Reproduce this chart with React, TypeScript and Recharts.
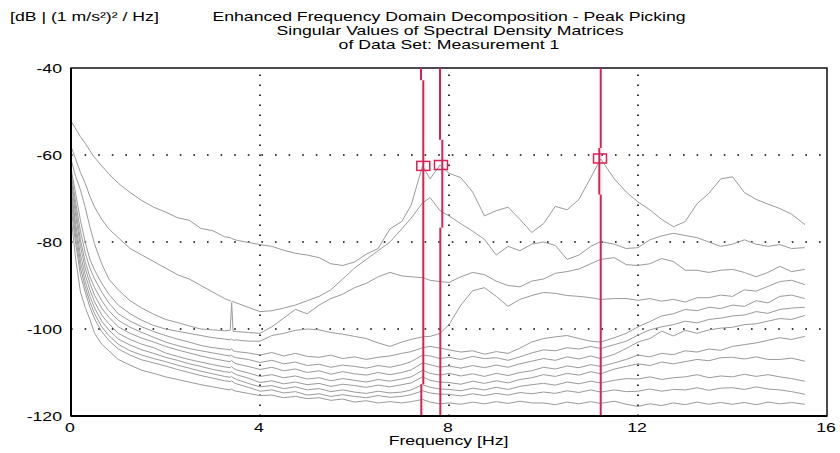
import React from "react";
import { ComposedChart, Line, XAxis, YAxis, ReferenceLine, ReferenceArea, ReferenceDot } from "recharts";

// frequency grid [Hz], shared by all singular value curves
const FREQS = [
  0, 0.1, 0.2, 0.3, 0.4, 0.5, 0.65, 0.8, 1.0, 1.25, 1.5, 1.75, 2.0,
  2.25, 2.5, 2.75, 3.0, 3.25, 3.37, 3.4, 3.43, 3.5, 3.75, 4.0,
  4.25, 4.5, 4.75, 5.0, 5.25, 5.5, 5.75, 6.0, 6.25, 6.5, 6.75, 7.0,
  7.2, 7.44, 7.6, 7.81,
  8.0, 8.25, 8.5, 8.75, 9.0, 9.25, 9.5, 9.75, 10.0, 10.25, 10.5, 10.75, 11.0,
  11.21,
  11.5, 11.75, 12.0, 12.25, 12.5, 12.75, 13.0, 13.25, 13.5, 13.75, 14.0, 14.25, 14.5, 14.75, 15.0, 15.25,
  15.53,
];

// singular values [dB], highest first
const SV1 = [
  -52.2, -54, -55.8, -57.3, -59, -60.6, -62.5, -64.3, -66.5, -68.6, -70.5, -72, -73.1,
  -74.4, -75.0, -76.9, -77.4, -78.8, -79, -79.2, -79.3, -79.6, -80.1, -80.6,
  -81, -81.9, -82.6, -83, -83.6, -85, -85.4, -84.6, -82.8, -81.5, -77, -75.3,
  -71.5, -62.5, -65.5, -62.3,
  -64.2, -65.2, -68.5, -74, -72.8, -72, -74.8, -77.8, -75.8, -71.8, -72.6, -70.2, -65.2,
  -60.9,
  -65.5, -68.5, -70.8, -72.6, -74.8, -76.5, -75.3, -71.2, -68.8, -65.5, -65, -68.6, -70.2, -71.3, -72.3, -73.6,
  -76,
];
const SV2 = [
  -58, -61, -64, -66.5, -69.5, -72, -74.8, -77, -79, -81.5, -83, -84.5, -86,
  -87.5, -88.5, -90, -91.5, -93, -93.5, -93.8, -93.7, -94, -95, -96,
  -95.8, -95.2, -94.5, -93.5, -92.5, -91, -88.5, -86, -84, -82, -80, -77,
  -74.5, -71, -69.8, -72.8,
  -74, -75.8, -77.5, -79.4, -83, -81, -82, -80.5, -80, -80.8, -84, -83, -81,
  -79.9,
  -80.5, -81.5, -81.3, -79.5, -78.6, -78, -78.5, -79, -80, -81, -80.5, -79.5, -80.5, -81, -80.6, -81.5,
  -81.3,
];
const SV3 = [
  -61, -65, -68, -72, -76.5, -80.5, -85, -88.5, -91, -93.5, -95.2, -96.6, -97.8,
  -98.5, -99.3, -100, -100.2, -100.4, -100.3, -94, -100.5, -100.6, -100.8, -101,
  -99.5, -97.5, -95.5, -96.5, -94.5, -93, -92, -90.5, -89.5, -88, -87, -87.8,
  -88, -88.2, -88.8, -89.1,
  -89.3, -88, -87, -87.5, -89, -90, -90.3, -89, -88.5, -87.2, -86.8, -86.2, -85,
  -84,
  -83.6, -85.2, -85.4, -85, -83.8, -84.5, -86.5, -86.5, -87, -86.5, -86.3, -87, -88, -87, -85.6, -86.8,
  -86.3,
];
const SV4 = [
  -63, -69, -75, -80, -84, -86.5, -89.5, -92, -94.5, -96.5, -98, -99.2, -100,
  -100.5, -101, -101.5, -102, -102.3, -102.5, -102.3, -102.6, -102.5, -102.8, -102.8,
  -101.5, -101, -100.3, -100, -100.2, -100.8, -101.2, -101.7, -102.2, -103.2, -104, -103,
  -102.4, -101.8, -101.7, -101,
  -99, -94.5, -91.2, -90.5, -92.5, -94.8, -93.2, -92.3, -91.6, -91.8, -92.3, -92.5, -92.8,
  -93.2,
  -93, -93, -93.4, -93, -93.6, -93.2, -93.8, -92.8, -92.8, -92.2, -92.5, -91, -91.3, -90.2, -89.1, -88.8,
  -89.8,
];
const SV5 = [
  -64, -71, -77.5, -82.5, -86, -88.5, -91.5, -94, -96.5, -98.2, -99.5, -100.6, -101.5,
  -102.3, -103, -103.8, -104.3, -104.6, -104.8, -104.5, -105, -105.2, -105.5, -106,
  -105.4, -106.2, -105.6, -106.3, -106.5, -106, -106.8, -106.4, -107, -106.5, -106.2, -105.6,
  -105.2, -104.3, -104, -104.4,
  -104.8, -105.3, -105, -105.8, -105.2, -105.6, -104.4, -103, -102.2, -101.8, -101.5, -102.2, -102.8,
  -103,
  -102, -101, -99.5, -98.3, -97, -96.5, -95.5, -95.8, -95, -95.3, -94.5, -94.8, -93.5, -94, -92.5, -92.2,
  -93,
];
const SV6 = [
  -65, -72.5, -79.5, -84.5, -88, -90.5, -93.5, -95.8, -98, -99.6, -100.8, -101.9, -103,
  -103.8, -104.5, -105, -105.5, -106, -106.2, -106, -106.4, -106.6, -107, -107.7,
  -107.2, -108, -107.6, -108.4, -108.1, -108.8, -108.3, -108.6, -109, -108.4, -108.8, -108.2,
  -107.5, -106, -106.2, -106.8,
  -106.5, -107, -106.3, -106.8, -106.6, -107.2, -106.4, -105.5, -104.8, -105, -104.3, -104.6, -104,
  -104.5,
  -103.6, -102.8, -101.4, -100.2, -99.5, -99, -98.2, -98.6, -97.8, -97.5, -97, -96.8, -96, -96.4, -95.5, -95.2,
  -95,
];
const SV7 = [
  -66, -74, -81, -86, -89.5, -92.3, -95.2, -97.3, -99.5, -101, -102.1, -103, -104,
  -104.8, -105.5, -106.2, -106.8, -107.3, -107.5, -107.2, -107.6, -108, -108.6, -109.3,
  -108.8, -109.6, -109.2, -110, -109.6, -110.4, -109.8, -110.3, -110.6, -110, -110.5, -110,
  -109.4, -107.8, -108.2, -108.8,
  -108.5, -109, -108.4, -108.9, -108.3, -108.8, -108, -107.4, -106.8, -107.2, -106.4, -106.9, -106.2,
  -106.8,
  -105.8, -104.5, -103, -102.2, -100.5, -101.6, -100.3, -101, -100.2, -99.8, -99.6, -99, -98.8, -98.2, -97.6, -97.8,
  -96.9,
];
const SV8 = [
  -67.5, -76, -83, -87.5, -91, -93.8, -96.8, -98.8, -101, -102.4, -103.5, -104.3, -105.5,
  -106.3, -107, -107.6, -108.2, -108.7, -108.9, -108.6, -109, -109.4, -110.1, -110.9,
  -110.5, -111.2, -110.8, -111.5, -111.2, -111.9, -111.4, -111.8, -112.2, -111.6, -112, -111.5,
  -111, -109.5, -110.2, -110.6,
  -110.2, -110.8, -110.3, -110.9, -110.2, -110.7, -110, -109.6, -108.8, -109.2, -108.5, -108.9, -108.2,
  -108.6,
  -107.8, -107, -106, -106.4, -105.6, -105.9, -105, -105.3, -104.6, -104.9, -104, -103.6, -103.2, -102.6, -102, -102.4,
  -101.7,
];
const SV9 = [
  -68.5, -77.5, -84.5, -89, -92.5, -95.2, -98.2, -100.2, -102.3, -103.7, -104.8, -105.6, -106.5,
  -107.2, -108, -108.6, -109.3, -109.8, -110, -109.8, -110.1, -110.5, -111.3, -112.3,
  -111.9, -112.6, -112.2, -112.8, -112.5, -113.2, -112.7, -113, -113.4, -112.9, -113.3, -112.8,
  -112.4, -111, -111.8, -112.2,
  -112.3, -112.7, -112, -112.5, -111.9, -112.4, -111.6, -111.2, -110.5, -110.9, -110.2, -110.6, -109.8,
  -110.3,
  -109.2, -108.6, -108, -108.4, -107.6, -108, -107.5, -107, -107.3, -106.6, -106.5, -106.9, -106.4, -107, -107, -106.7,
  -107.4,
];
const SV10 = [
  -70, -79, -86, -90.3, -93.8, -96.5, -99.5, -101.5, -103.5, -105, -106, -106.8, -107.5,
  -108.3, -109, -109.7, -110.3, -110.9, -111.1, -110.9, -111.2, -111.6, -112.5, -113.3,
  -113, -113.7, -113.3, -114, -113.7, -114.4, -114, -114.5, -114.8, -114.3, -114.7, -114.5,
  -114, -112.8, -113.4, -113.8,
  -113.9, -114.2, -113.6, -114, -113.4, -113.9, -113.2, -112.8, -112.5, -112.9, -112.2, -112.6, -112,
  -112.4,
  -111.8, -111.4, -111.5, -111, -111.6, -111.2, -111, -110.5, -111.2, -110.8, -111, -110.4, -110.9, -110.5, -111, -111.4,
  -112,
];
const SV11 = [
  -72, -80.5, -87.5, -91.5, -95, -97.7, -100.6, -102.6, -104.6, -106, -107.1, -107.8, -108.5,
  -109.3, -110, -110.7, -111.3, -111.9, -112.1, -111.9, -112.2, -112.6, -113.4, -114.3,
  -114, -114.7, -114.4, -115.2, -114.9, -115.5, -115.1, -115.5, -115.8, -115.3, -115.7, -115.5,
  -115.1, -114.2, -114.7, -115,
  -115, -115.4, -114.9, -115.3, -114.8, -115.2, -114.6, -114.9, -114.5, -114.8, -114.2, -114.6, -114,
  -114.5,
  -114, -114.4, -114.3, -113.8, -114.3, -113.9, -114, -113.5, -114.1, -113.6, -113.5, -113.9, -113.3, -113.8, -114, -114.4,
  -115,
];
const SV12 = [
  -74, -84, -91.5, -95, -97.8, -101, -103.5, -105, -107, -108.3, -109.5, -110.2, -111,
  -111.6, -112.2, -112.8, -113.3, -113.8, -114, -113.8, -114.1, -114.3, -114.8, -115.3,
  -115.2, -115.8, -115.5, -116, -115.8, -116.4, -116.1, -116.8, -116.5, -117, -116.7, -117,
  -116.7, -116.2, -116.8, -117.2,
  -117, -117.3, -116.8, -117.2, -116.7, -117.1, -116.6, -117, -117, -117.4, -116.8, -117.2, -116.7,
  -117.1,
  -116.6, -117.3, -117.8, -117.2, -117.6, -117, -117.4, -116.8, -117.3, -116.9, -117.3, -116.9, -117.4, -116.8, -117.2, -116.9,
  -117.3,
];

const SERIES = [SV1, SV2, SV3, SV4, SV5, SV6, SV7, SV8, SV9, SV10, SV11, SV12];

const X_TICKS = [0, 4, 8, 12, 16];
const Y_TICKS = [-120, -100, -80, -60, -40];
const GRID_X = [4, 8, 12];
const GRID_Y = [-100, -80, -60];

// picked peaks
const PEAK_FREQS = [7.456, 7.83, 11.196];
const PEAK_DB = [-62.5, -62.3, -60.8];

// peak marker lines, as [frequency, from dB, to dB] pieces (they jog a pixel or two)
const PEAK_LINE_PIECES = [
  [7.407, -40, -42.8], [7.456, -42.8, -112.7], [7.414, -112.7, -120],
  [7.81, -40, -56.5], [7.858, -56.5, -76.7], [7.816, -76.7, -120],
  [11.211, -40, -58.4], [11.181, -58.4, -69.1], [11.211, -69.1, -120],
];

const data = FREQS.map((f, i) => {
  const row: Record<string, number> = { f };
  SERIES.forEach((s, k) => {
    row["sv" + (k + 1)] = s[i];
  });
  return row;
});

const FONT = "'Liberation Sans', Arial, sans-serif";
const RED = "#dc1f55";
const GRAY = "#9a9a9a";

// the original text is drawn about 1.36x wider than Arial
function WideText({ x, y, anchor = "start", children }: any) {
  return (
    <text
      transform={`translate(${x} ${y}) scale(1.36 1)`}
      textAnchor={anchor}
      fontFamily={FONT}
      fontSize={13}
      fill="#000"
    >
      {children}
    </text>
  );
}

const YTick = (props: any) => (
  <WideText x={props.x} y={props.y + 4.5} anchor="end">
    {props.payload.value}
  </WideText>
);

const XTick = (props: any) => (
  <WideText x={props.x - 1} y={props.y + 15.5} anchor="middle">
    {props.payload.value}
  </WideText>
);

export default function App() {
  return (
    <div style={{ position: "fixed", left: 0, top: 0, width: 840, height: 453, background: "#fff" }}>
      <ComposedChart width={840} height={453} data={data} margin={{ top: 68, right: 13, bottom: 7, left: 11 }}>
        <ReferenceArea x1={0} x2={16} y1={-120} y2={-40} fill="none" fillOpacity={0} stroke="#111" strokeWidth={1.5} />
        {GRID_X.map((v) => (
          <ReferenceLine key={"gx" + v} x={v} stroke="#000" strokeWidth={1.6} strokeDasharray="1.6 8.4" />
        ))}
        {GRID_Y.map((v) => (
          <ReferenceLine key={"gy" + v} y={v} stroke="#000" strokeWidth={1.6} strokeDasharray="1.6 12" />
        ))}
        {SERIES.map((_, k) => (
          <Line
            key={k}
            dataKey={"sv" + (k + 1)}
            type="linear"
            stroke={GRAY}
            strokeWidth={1}
            dot={false}
            activeDot={false}
            isAnimationActive={false}
          />
        ))}
        {PEAK_LINE_PIECES.map(([f, a, b], i) => (
          <ReferenceLine
            key={"pl" + i}
            segment={[{ x: f, y: a }, { x: f, y: b }]}
            stroke={RED}
            strokeWidth={2}
          />
        ))}
        {PEAK_FREQS.map((f, i) => (
          <ReferenceDot
            key={"pk" + i}
            x={f}
            y={PEAK_DB[i]}
            shape={(p: any) => (
              <rect x={p.cx - 6.5} y={p.cy - 4.5} width={13} height={9} fill="none" stroke={RED} strokeWidth={1.5} />
            )}
          />
        ))}
        <XAxis
          dataKey="f"
          type="number"
          domain={[0, 16]}
          ticks={X_TICKS}
          interval={0}
          tickLine={false}
          tickSize={0}
          tickMargin={0}
          height={30}
          axisLine={{ stroke: "#000", strokeWidth: 2 }}
          tick={XTick}
        />
        <YAxis
          type="number"
          domain={[-120, -40]}
          ticks={Y_TICKS}
          interval={0}
          tickLine={false}
          tickSize={0}
          tickMargin={9}
          width={60}
          axisLine={{ stroke: "#000", strokeWidth: 2 }}
          tick={YTick}
        />
      </ComposedChart>
      <svg
        width={840}
        height={453}
        style={{ position: "absolute", left: 0, top: 0, pointerEvents: "none" }}
      >
        <WideText x={10} y={21}>[dB | (1 m/s²)² / Hz]</WideText>
        <WideText x={449} y={21} anchor="middle">Enhanced Frequency Domain Decomposition - Peak Picking</WideText>
        <WideText x={450} y={35} anchor="middle">Singular Values of Spectral Density Matrices</WideText>
        <WideText x={449} y={49} anchor="middle">of Data Set: Measurement 1</WideText>
        <WideText x={448.5} y={445} anchor="middle">Frequency [Hz]</WideText>
      </svg>
    </div>
  );
}
